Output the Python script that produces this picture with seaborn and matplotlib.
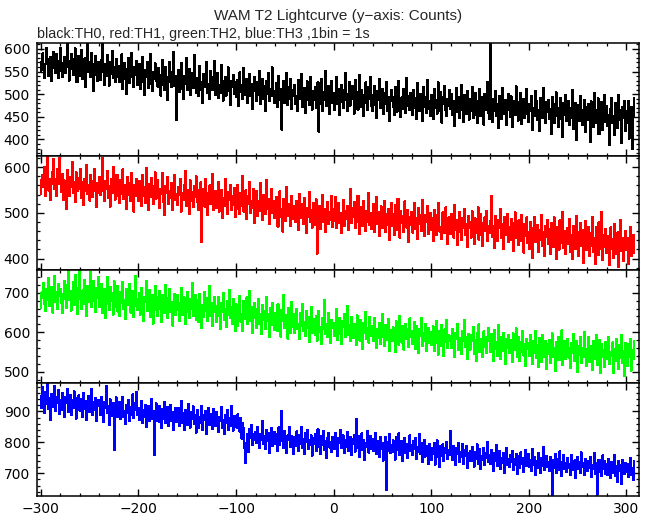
import numpy as np
import pandas as pd
import matplotlib
matplotlib.use("Agg")
import matplotlib.pyplot as plt
from matplotlib.ticker import MultipleLocator
import seaborn as sns

# ---------------- data (counts per 1 s bin, starting at t = -300 s) ----------------
t_start = -300
bin_size = 1

th0 = [
548,571,590,553,536,567,602,578,541,560,583,529,557,594,570,546,588,562,535,574,
603,551,538,569,582,547,559,610,573,530,556,589,565,542,577,601,549,526,563,585,
541,568,597,533,552,579,516,561,615,548,572,537,590,555,508,566,584,543,529,571,
558,532,575,612,549,521,566,541,587,553,519,570,544,596,536,561,527,578,550,539,
563,527,545,588,512,540,569,533,501,556,579,524,548,591,537,515,560,542,574,520,
535,566,511,548,582,527,499,553,538,571,514,543,589,522,507,550,534,568,529,545,
516,558,532,497,543,575,521,509,560,537,488,526,571,549,515,532,593,519,540,442,
527,553,505,534,568,512,490,541,523,579,509,531,556,498,520,546,514,587,529,503,
535,519,496,562,527,508,481,544,516,530,571,502,523,489,551,537,510,526,574,499,
514,547,492,521,503,565,529,486,510,538,497,524,559,508,476,530,517,542,501,526,
493,531,512,474,548,505,520,489,557,498,516,534,481,509,545,496,523,468,507,539,
511,486,527,499,552,478,504,533,490,517,463,528,501,546,484,512,495,559,507,480,
498,524,471,506,540,487,512,422,493,529,480,501,547,476,515,490,534,468,509,495,
520,478,497,463,531,489,505,545,472,494,513,459,486,528,501,476,539,491,466,508,
487,515,470,498,526,417,493,479,534,462,505,488,551,474,499,518,457,492,529,481,
503,466,491,537,478,512,455,496,521,483,470,509,546,488,463,500,527,475,494,518,
489,457,531,478,504,466,492,543,471,510,485,452,499,526,480,465,515,490,539,474,
462,498,519,475,448,506,487,533,469,491,512,456,478,502,527,464,493,441,485,510,
495,472,453,516,484,461,507,530,476,449,493,468,512,489,458,536,474,497,466,503,
481,455,509,470,492,446,525,478,463,501,487,440,516,472,494,459,532,468,485,452,
498,473,445,512,469,488,457,526,481,462,504,437,479,495,518,464,451,490,475,509,
467,501,454,486,430,477,513,460,493,448,474,521,466,439,498,482,457,507,471,444,
489,462,516,447,478,503,455,436,485,469,512,451,494,476,433,500,465,482,527,458,
445,610,471,438,490,463,508,452,479,426,496,468,445,513,474,457,488,431,466,501,
472,449,495,428,461,486,453,517,470,441,482,459,503,434,476,490,447,465,511,456,
438,479,462,497,421,469,452,506,485,443,466,419,491,474,448,513,457,436,482,460,
487,445,468,412,493,459,436,478,504,451,427,470,446,492,463,405,481,454,499,440,
458,486,431,469,447,510,424,462,481,398,455,476,440,497,466,433,452,488,417,471,
442,479,462,395,484,451,428,503,466,437,458,491,412,470,446,483,421,462,498,438,
474,429,455,388,468,492,436,451,410,480,457,425,499,443,466,392,471,448,485,419,
463,437,486,402,455,471,378,449,492,
]

th1 = [
541,572,583,556,601,537,568,622,549,575,529,563,590,618,552,574,538,597,563,621,
566,546,585,529,571,552,508,594,563,537,579,556,612,544,568,523,589,560,547,577,
553,596,532,567,518,575,549,604,541,562,527,583,556,535,570,597,548,512,566,543,
578,539,561,620,547,526,569,553,592,533,558,514,575,544,600,562,529,551,583,537,
556,521,573,542,595,531,560,548,509,578,539,565,526,588,547,503,562,536,574,550,
527,569,544,515,583,538,556,522,599,541,507,563,534,576,549,520,558,589,531,546,
572,536,510,553,541,587,524,496,559,543,578,519,548,533,565,506,551,583,529,542,
518,557,539,574,503,544,529,562,591,515,536,550,498,571,527,546,512,559,535,580,
524,549,506,537,567,436,531,552,514,575,528,495,543,560,519,538,586,507,533,548,
511,540,568,503,527,551,489,532,515,574,520,497,545,529,562,506,536,518,554,490,
533,508,561,522,497,544,515,581,503,528,549,486,519,537,568,499,525,510,553,478,
517,548,493,526,505,566,512,484,539,521,497,573,509,531,476,515,552,500,527,489,
498,535,511,470,524,547,492,508,459,531,503,483,556,512,494,520,472,538,505,486,
514,479,527,496,462,541,503,488,519,475,533,498,455,510,491,546,481,506,468,522,
495,473,530,411,502,487,516,464,497,540,480,509,458,493,524,476,501,485,536,469,
508,482,535,466,494,521,478,500,456,489,528,471,504,486,515,463,498,553,477,510,
491,524,467,502,479,538,485,453,512,496,471,527,488,460,505,481,543,474,499,465,
486,519,458,493,535,476,501,449,488,514,467,482,526,459,497,473,509,440,485,521,
471,498,452,517,480,463,531,489,446,503,477,494,458,525,483,468,507,436,491,474,
502,457,484,521,465,489,443,510,476,495,460,528,470,449,496,481,515,454,473,499,
462,488,438,506,473,451,495,480,522,459,469,443,501,484,456,512,465,432,490,474,
453,497,470,446,518,462,485,429,476,501,458,440,489,467,509,451,475,426,494,468,
480,446,503,463,431,488,457,474,512,441,466,497,452,427,478,490,460,505,438,471,
455,482,536,447,471,423,493,459,438,485,466,509,444,475,420,490,462,451,498,436,
469,440,487,455,417,478,501,446,462,429,484,457,439,495,468,413,476,450,490,434,
458,421,481,445,402,467,490,436,453,474,415,462,441,496,427,459,405,471,448,484,
432,465,410,478,449,426,490,455,398,470,441,419,484,452,435,502,423,461,409,447,
466,431,487,414,452,399,472,440,421,493,458,406,445,478,427,463,390,449,482,418,
437,470,405,456,428,491,414,446,388,468,433,407,479,443,420,502,396,452,425,464,
412,449,431,385,468,420,442,401,475,428,410,457,381,436,484,417,446,395,430,461,
419,445,388,432,470,406,427,451,413,
]

th2 = [
662,701,688,725,671,654,709,683,738,667,696,715,650,689,742,676,703,658,721,692,
710,673,648,697,731,685,662,719,758,681,704,655,692,727,669,745,688,713,646,700,
767,684,659,706,672,733,690,641,718,677,702,752,664,695,729,680,651,711,686,739,
665,697,723,648,684,709,636,671,741,689,657,714,678,700,645,729,663,690,718,652,
688,641,702,674,727,659,681,634,709,668,695,723,650,679,704,638,667,742,685,656,
672,699,645,713,661,628,690,676,731,653,684,707,639,666,695,622,678,718,657,689,
641,682,705,659,626,694,671,648,720,663,635,687,709,652,677,617,668,698,643,681,
695,656,629,673,712,644,661,688,620,676,703,651,637,684,659,726,641,668,694,632,
658,681,625,697,647,611,670,638,702,654,686,629,663,718,641,675,616,652,689,660,
627,666,689,641,609,673,652,699,631,658,614,680,645,707,636,663,621,684,650,602,
671,638,615,659,692,627,646,603,679,634,657,688,620,641,705,629,665,598,648,674,
637,611,660,683,622,645,596,668,631,654,609,690,628,647,588,661,619,675,642,606,
649,625,602,671,615,638,589,657,628,694,610,643,621,584,662,636,599,677,613,646,
598,634,659,607,621,583,648,615,672,603,626,591,655,612,639,576,620,664,597,633,
617,593,641,578,625,654,601,612,569,636,608,681,595,622,587,649,604,573,630,611,
624,590,612,658,581,607,635,596,570,628,614,647,589,603,666,592,619,577,638,601,
585,621,604,567,643,596,612,579,632,608,558,624,597,651,583,610,574,639,601,590,
615,578,637,592,561,609,586,624,571,603,646,589,565,618,597,580,633,552,606,594,
577,612,596,549,628,585,603,568,641,590,574,617,556,599,622,583,608,562,635,588,
604,571,593,626,558,615,582,547,609,591,636,566,598,578,620,553,589,611,572,601,
568,597,615,552,586,629,574,543,603,581,564,618,589,540,607,576,632,561,594,579,
591,560,609,574,537,598,582,621,555,585,571,544,603,578,630,562,589,531,596,574,
556,592,577,613,545,581,526,598,567,620,550,584,571,537,602,563,589,548,578,611,
583,549,596,571,528,605,558,576,541,618,565,532,587,553,599,574,519,582,560,594,
547,581,563,524,597,555,572,610,538,566,589,527,575,551,603,541,569,514,584,558,
573,540,592,556,519,579,548,602,535,567,511,586,553,525,594,562,537,578,506,569,
545,581,523,565,597,538,559,502,574,550,588,529,563,541,605,517,556,579,532,568,
583,536,561,510,573,548,596,527,555,578,499,564,542,587,521,559,537,601,548,514,
557,589,524,566,541,505,578,550,532,593,516,560,545,581,497,569,538,554,512,576,
533,562,587,519,551,540,574,496,558,527,583,545,508,567,536,592,521,553,489,572,
548,515,569,537,584,503,556,531,578,
]

th3 = [
951,912,978,934,896,962,925,989,908,943,871,957,930,915,984,902,948,926,969,893,
937,905,960,918,882,946,929,973,899,921,954,887,938,910,965,927,876,943,915,952,
903,940,921,882,959,908,934,872,926,950,897,916,974,889,930,905,944,868,919,937,
925,890,948,901,867,932,910,982,895,918,857,939,904,886,927,775,913,946,882,907,
892,931,874,910,947,883,903,860,921,896,937,869,914,890,955,878,905,928,964,888,
911,873,896,935,862,904,881,922,850,897,917,868,889,940,876,903,759,885,926,870,
899,867,918,885,846,907,876,930,862,893,915,854,882,921,870,898,841,887,912,865,
888,912,853,879,934,862,895,841,904,872,857,925,883,848,899,874,916,859,887,831,
876,905,848,883,862,917,839,887,871,901,826,878,912,856,893,867,842,908,875,852,
897,859,835,881,868,913,847,872,826,890,864,905,841,878,854,919,866,838,885,851,
873,846,891,858,834,879,812,861,845,780,733,798,826,769,842,815,857,790,828,809,
834,797,851,815,782,826,809,868,793,821,778,840,803,829,766,818,846,789,811,834,
795,826,772,813,848,790,817,901,803,781,836,799,765,822,808,851,784,819,796,763,
818,789,835,805,771,824,796,849,782,810,763,829,800,841,778,806,790,822,757,813,
794,826,772,808,843,785,799,761,820,791,837,776,805,749,813,829,783,801,768,816,
804,777,829,791,756,815,798,840,781,793,822,764,807,786,834,772,799,817,759,811,
796,825,770,876,803,781,819,751,794,829,776,808,743,799,785,838,767,802,821,778,
812,772,795,829,763,787,804,752,818,779,799,741,790,816,645,773,801,826,764,791,
768,806,785,744,817,775,793,829,759,787,804,738,781,813,766,796,750,788,822,772,
791,758,803,779,815,747,784,769,826,761,797,736,778,808,754,789,771,731,796,763,
742,783,761,799,728,775,806,752,770,719,788,757,793,739,781,764,802,745,776,758,
837,770,744,789,757,725,781,762,798,736,768,751,794,729,775,756,787,718,766,741,
772,738,786,753,721,769,746,794,730,761,779,712,757,742,783,725,766,748,801,735,
760,729,775,744,708,766,739,790,723,752,771,715,748,733,764,701,757,781,726,745,
721,758,736,772,709,745,727,763,696,741,754,718,768,731,749,704,737,775,722,746,
761,719,742,708,779,727,751,693,738,716,765,730,702,748,724,786,711,739,756,720,
735,706,752,722,630,741,717,762,699,728,746,711,771,725,690,737,759,714,732,703,
748,717,731,695,760,722,709,741,684,728,753,712,736,701,767,719,733,693,745,726,
708,739,716,752,687,727,712,766,698,733,630,719,744,703,725,690,758,714,738,696,
729,695,746,711,683,735,718,702,759,690,724,671,739,706,728,664,743,712,697,733,
705,731,688,722,749,694,716,677,738,
]

series_names = ["TH0", "TH1", "TH2", "TH3"]
series_values = [th0, th1, th2, th3]
series_colors = ["#000000", "#ff0000", "#00ff00", "#0000ff"]
y_limits = [(363, 613), (376, 624), (472, 759), (626, 993)]
y_major = [50, 100, 100, 100]
y_minor = [10, 20, 20, 20]
x_limits = (-304, 313)
x_ticks = [-300, -200, -100, 0, 100, 200, 300]

title_text = "WAM T2 Lightcurve (y\u2212axis: Counts)"
subtitle_text = "black:TH0, red:TH1, green:TH2, blue:TH3 ,1bin = 1s"

# ---------------- style ----------------
sns.set_style("ticks")
plt.rcParams["font.family"] = ["Liberation Sans", "DejaVu Sans"]
plt.rcParams["axes.unicode_minus"] = True

W, H = 652, 515
fig = plt.figure(figsize=(W / 100, H / 100), dpi=100)

left_px, right_px = 37, 639
top_px, bottom_px = 43, 496
panel_h = (bottom_px - top_px) / 4

axes = []
for i in range(4):
    y_top = top_px + i * panel_h
    ax = fig.add_axes([left_px / W, 1 - (y_top + panel_h) / H,
                       (right_px - left_px) / W, panel_h / H])
    axes.append(ax)

for i, (ax, name, vals, col) in enumerate(zip(axes, series_names, series_values, series_colors)):
    t = t_start + bin_size * np.arange(len(vals))
    df = pd.DataFrame({"time": t, "counts": vals})
    sns.lineplot(data=df, x="time", y="counts", ax=ax, color=col,
                 linewidth=0.75, drawstyle="steps-mid", estimator=None,
                 errorbar=None, legend=False, antialiased=False)
    ax.set_xlim(*x_limits)
    ax.set_ylim(*y_limits[i])
    ax.set_xlabel("")
    ax.set_ylabel("")
    ax.set_xticks(x_ticks)
    ax.xaxis.set_minor_locator(MultipleLocator(20))
    ax.yaxis.set_major_locator(MultipleLocator(y_major[i]))
    ax.yaxis.set_minor_locator(MultipleLocator(y_minor[i]))
    ax.tick_params(which="both", direction="in", top=True, right=True,
                   labelsize=10, colors="black")
    ax.tick_params(which="major", length=5, width=1.0, pad=5)
    ax.tick_params(which="minor", length=2.5, width=0.9)
    for lab in ax.get_xticklabels() + ax.get_yticklabels():
        lab.set_fontfamily("DejaVu Sans")
    for sp in ax.spines.values():
        sp.set_linewidth(1.1)
        sp.set_color("black")
    if i < 3:
        ax.tick_params(labelbottom=False)
    else:
        ax.tick_params(axis="x", pad=4)

fig.text((left_px + right_px) / 2 / W, 1 - 16 / H, title_text,
         ha="center", va="center", fontsize=11)
fig.text(left_px / W, 1 - 33.5 / H, subtitle_text,
         ha="left", va="center", fontsize=10.3)

fig.savefig("out.png", dpi=100)
